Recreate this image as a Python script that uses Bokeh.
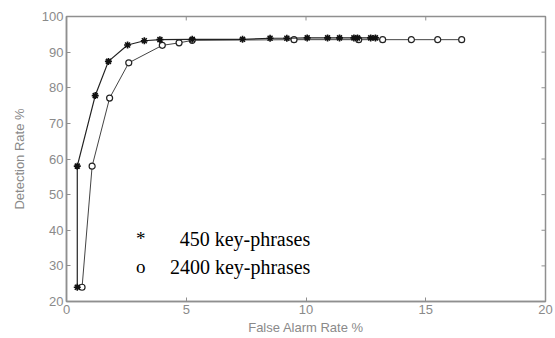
from bokeh.plotting import figure
from bokeh.models import Label, Range1d, FixedTicker
from bokeh.embed import file_html
from bokeh.resources import INLINE

# Data
far_450 = [0.45, 0.45, 1.2, 1.75, 2.55, 3.25, 3.9, 5.25, 7.35, 8.5, 9.2, 10.05, 10.9, 11.4, 12.0, 12.15, 12.7, 12.9]
det_450 = [24.0, 58.0, 77.8, 87.4, 92.0, 93.2, 93.5, 93.6, 93.6, 93.9, 93.9, 94.0, 94.0, 94.0, 94.0, 94.0, 94.0, 94.0]

far_2400 = [0.65, 1.07, 1.8, 2.6, 4.0, 4.7, 5.25, 9.5, 12.2, 13.2, 14.4, 15.5, 16.5]
det_2400 = [24.0, 58.0, 77.1, 87.0, 91.9, 92.6, 93.3, 93.5, 93.5, 93.5, 93.5, 93.5, 93.5]

x_ticks = [0, 5, 10, 15, 20]
y_ticks = [20, 30, 40, 50, 60, 70, 80, 90, 100]

legend_lines = ["450 key-phrases", "2400 key-phrases"]
legend_syms = ["*", "o"]

AX = "#8f8f8f"
TXT = "#8a8a8a"
FONT = "Liberation Sans"
X0, X1, Y0, Y1 = 0, 20, 20, 100

p = figure(width=554, height=337, output_backend="svg", toolbar_location=None,
           x_range=Range1d(X0, X1), y_range=Range1d(Y0, Y1),
           min_border_left=66, min_border_right=9, min_border_top=16, min_border_bottom=33)
p.xgrid.visible = False
p.ygrid.visible = False
p.outline_line_color = AX
p.outline_line_width = 1.5
p.background_fill_color = "white"
p.border_fill_color = "white"

def style(ax, ticks):
    ax.ticker = FixedTicker(ticks=ticks)
    ax.axis_line_color = AX
    ax.axis_line_width = 1.5
    ax.major_tick_line_color = AX
    ax.major_tick_in = 4
    ax.major_tick_out = 0
    ax.minor_tick_line_color = None
    ax.major_label_text_color = TXT
    ax.major_label_text_font = FONT
    ax.major_label_text_font_size = "13px"
    ax.major_label_standoff = 3
    ax.axis_label_text_color = TXT
    ax.axis_label_text_font = FONT
    ax.axis_label_text_font_size = "13px"
    ax.axis_label_text_font_style = "normal"
    ax.axis_label_standoff = 3

style(p.xaxis[0], x_ticks)
style(p.yaxis[0], y_ticks)
p.xaxis[0].axis_label = "False Alarm Rate %"
p.yaxis[0].axis_label = "Detection Rate %"
p.yaxis[0].axis_label_standoff = 12

# inward ticks on the top and right edges of the box
dy = (Y1 - Y0) * 4 / 288.0
dx = (X1 - X0) * 4 / 479.0
p.segment(x0=x_ticks, y0=[Y1] * len(x_ticks), x1=x_ticks, y1=[Y1 - dy] * len(x_ticks),
          line_color=AX, line_width=1)
p.segment(x0=[X1] * len(y_ticks), y0=y_ticks, x1=[X1 - dx] * len(y_ticks), y1=y_ticks,
          line_color=AX, line_width=1)

# series
p.line(far_2400, det_2400, line_color="#444444", line_width=1)
p.scatter(far_2400, det_2400, marker="circle", size=6, fill_color="white",
          line_color="#222222", line_width=1.2)
p.line(far_450, det_450, line_color="#222222", line_width=1.2)
p.scatter(far_450, det_450, marker="asterisk", size=7, line_color="#111111", line_width=1.6)

# legend text (Times-like)
for i, (sym, txt) in enumerate(zip(legend_syms, legend_lines)):
    yv = 37.6 - i * 7.8
    p.add_layout(Label(x=3.1, y=yv, text=sym, text_font="Liberation Serif",
                       text_font_size="19px", text_color="black",
                       text_align="center", text_baseline="middle"))
    p.add_layout(Label(x=7.45 - i * 0.2, y=yv, text=txt, text_font="Liberation Serif",
                       text_font_size="20px", text_color="black",
                       text_align="center", text_baseline="middle"))

open("out.html", "w").write(file_html(p, INLINE))
